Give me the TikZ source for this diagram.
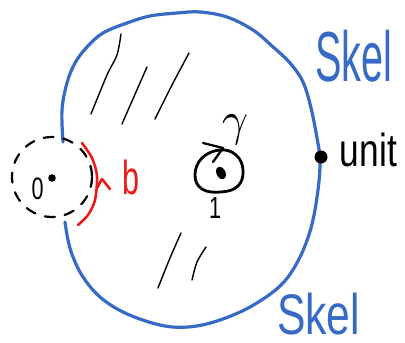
\documentclass[tikz,border=0pt]{standalone}
\usepackage{graphicx}
\usepackage{fontspec}
\setmainfont{Liberation Sans}
\definecolor{skblue}{RGB}{54,106,196}
\definecolor{skred}{RGB}{232,28,28}
\begin{document}
\begin{tikzpicture}[x=1pt,y=-1pt,line cap=round,line join=round,
  blueline/.style={draw=skblue,line width=3.2pt},
  hatch/.style={draw=black,line width=1.4pt},
  ink/.style={draw=black,line width=2.8pt},
  redline/.style={draw=skred,line width=2.6pt},
  lbl/.style={inner sep=0pt,outer sep=0pt}]
\useasboundingbox (0,0) rectangle (405,343);
% skeleton boundary
\draw[blueline] plot[smooth,tension=0.6] coordinates {
 (63,142) (62,110) (67,83) (75,63) (87,47) (103,33) (127,23) (150,16) (177,13) (200,12) (227,17)
 (253,30) (272,46) (290,63) (303,82) (311,108) (317,138) (320,160)
 (318,190) (311,228) (298,261) (280,286) (250,307) (217,321) (188,327) (160,325) (125,313)
 (100,297) (83,277) (73,257) (68,240) (65,222)};
% hatching
\draw[hatch] plot[smooth] coordinates {(121,34) (117,55) (107,75) (91,114)};
\draw[hatch] plot[smooth] coordinates {(147,67) (136,92) (122,124)};
\draw[hatch] plot[smooth] coordinates {(189,53) (172,85) (155,119)};
\draw[hatch] plot[smooth] coordinates {(181,233) (170,258) (158,288)};
\draw[hatch] plot[smooth] coordinates {(206,247) (197,262) (192,280)};
% dashed disc around 0
\draw[black,line width=2.2pt,dash pattern=on 10pt off 10pt] (52,177) circle[radius=40];
\fill[black] (52,178) circle[radius=3.8];
\node[lbl] (zero) at (37.5,189) {\resizebox*{12pt}{22pt}{0}};
% red arc b
\draw[redline] plot[smooth] coordinates {(82,143) (92,158) (97,176) (95,200) (88,215) (78,225)};
\draw[redline] (97,188) -- (102,179) -- (110,189);
\node[lbl,text=skred] (b) at (131.5,177.5) {\resizebox*{17pt}{35pt}{b}};
% loop gamma
\draw[ink] plot[smooth cycle,tension=0.7] coordinates {(220,150) (236,155) (243,170) (238,186) (221,192) (202,189) (195,175) (202,158)};
\fill[black,rotate around={25:(221,173)}] (221,173) ellipse[x radius=4.5,y radius=6.5];
\draw[ink,line width=2.3pt] (203,143) -- (223,148) -- (213,162);
\node[lbl] (gam) at (235,130) {\resizebox*{26pt}{30pt}{$\gamma$}};
\node[lbl] (one) at (215,207.5) {\resizebox*{12pt}{21pt}{1}};
% unit
\fill[black] (321,157) circle[radius=6.5];
\node[lbl] (unit) at (368.5,150) {\resizebox*{57pt}{34pt}{unit}};
% labels Skel
\node[lbl,text=skblue] (skel1) at (353.5,56) {\resizebox*{77pt}{52pt}{Skel}};
\node[lbl,text=skblue] (skel2) at (318.5,314) {\resizebox*{83pt}{42pt}{Skel}};
\end{tikzpicture}
\end{document}
